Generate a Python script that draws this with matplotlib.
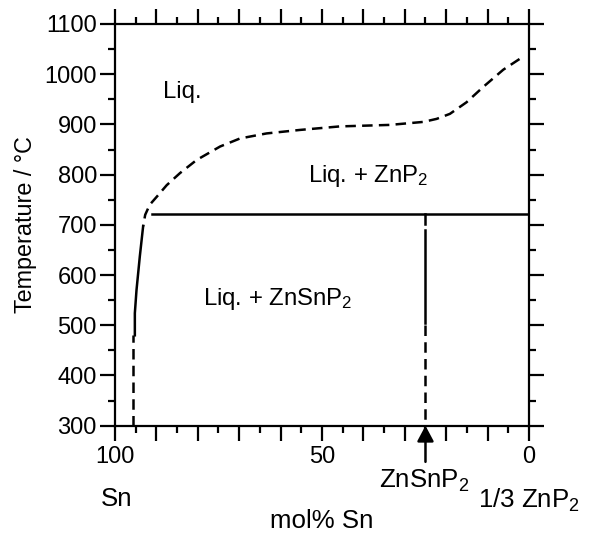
import numpy as np
import matplotlib
matplotlib.use("Agg")
import matplotlib.pyplot as plt
from matplotlib.ticker import MultipleLocator, FuncFormatter

plt.rcParams['font.family'] = ['Liberation Sans', 'DejaVu Sans']
plt.rcParams['mathtext.default'] = 'regular'

# liquidus (dashed): mol% Sn, temperature
liq_x = [93.2, 92.7, 91.6, 89.9, 87.5, 84.3, 80.3, 74.6, 69.8, 63.4, 55.3,
         45.7, 33.6, 25.5, 22.3, 19.1, 15.1, 11.0, 6.2, 1.4]
liq_t = [697, 720, 740, 756, 779, 803, 829, 856, 872, 882, 889,
         896, 899, 905, 911, 921, 944, 975, 1009, 1035]

# solid part of the Sn-rich boundary
sn_x = [95.2, 95.2, 94.8, 94.0, 93.2]
sn_t = [480, 524, 570, 637, 697]

# dashed lower part near Sn
sn_low_x = [95.6, 95.6]
sn_low_t = [300, 480]

# horizontal invariant line
hor_x = [91.1, 0]
hor_t = [722, 722]

# ZnSnP2 composition line
zsp_x = 25
zsp_top = [722, 702]
zsp_mid = [690, 505]
zsp_low = [500, 300]

fig = plt.figure(figsize=(5.89, 5.4), dpi=100)
ax = fig.add_axes([0.1952, 0.2117, 0.7029, 0.7439])

lw = 1.8
dash = (0, (4.2, 2.5))
ax.plot(liq_x, liq_t, color='black', lw=lw, ls=(3.5, (4.2, 2.5)))
ax.plot(sn_x, sn_t, color='black', lw=lw)
ax.plot(sn_low_x, sn_low_t, color='black', lw=lw, ls=dash)
ax.plot(hor_x, hor_t, color='black', lw=lw)
ax.plot([zsp_x, zsp_x], zsp_top, color='black', lw=lw)
ax.plot([zsp_x, zsp_x], zsp_mid, color='black', lw=lw)
ax.plot([zsp_x, zsp_x], zsp_low, color='black', lw=lw, ls=dash)

ax.set_xlim(100, 0)
ax.set_ylim(300, 1100)

ax.xaxis.set_major_locator(MultipleLocator(10))
ax.xaxis.set_minor_locator(MultipleLocator(5))
ax.xaxis.set_major_formatter(FuncFormatter(
    lambda v, p: f"{v:.0f}" if round(v) % 50 == 0 else ""))
ax.yaxis.set_major_locator(MultipleLocator(100))
ax.yaxis.set_minor_locator(MultipleLocator(50))

fs = 17.2
fs_big = 18.6
for s in ax.spines.values():
    s.set_linewidth(1.6)
ax.tick_params(which='both', direction='out', top=True, right=True,
               width=1.6, labelsize=17)
ax.tick_params(which='major', length=10.5)
ax.tick_params(which='minor', length=5)
ax.tick_params(axis='y', pad=2.5)
ax.tick_params(axis='x', pad=4)

ax.set_ylabel('Temperature / \u00b0C', fontsize=16.8, labelpad=5)

ax.text(88.4, 952, 'Liq.', fontsize=fs)
ax.text(53.3, 786, 'Liq. + ZnP$_2$', fontsize=fs)
ax.text(78.7, 540, 'Liq. + ZnSnP$_2$', fontsize=fs)

ax.annotate('', xy=(zsp_x, 300), xytext=(zsp_x, 228),
            arrowprops=dict(arrowstyle='-|>,head_length=0.47,head_width=0.25',
                            mutation_scale=20, color='black', lw=1.8,
                            shrinkA=0, shrinkB=0),
            annotation_clip=False)

fig.text(424 / 589, 1 - 488 / 540, 'ZnSnP$_2$', fontsize=fs_big, ha='center',
         va='baseline')
fig.text(529 / 589, 1 - 508 / 540, '1/3 ZnP$_2$', fontsize=fs_big, ha='center',
         va='baseline')
fig.text(116.5 / 589, 1 - 506 / 540, 'Sn', fontsize=fs_big, ha='center',
         va='baseline')
fig.text(321.5 / 589, 1 - 528 / 540, 'mol% Sn', fontsize=fs_big, ha='center',
         va='baseline')

fig.savefig('out.png', dpi=100)
